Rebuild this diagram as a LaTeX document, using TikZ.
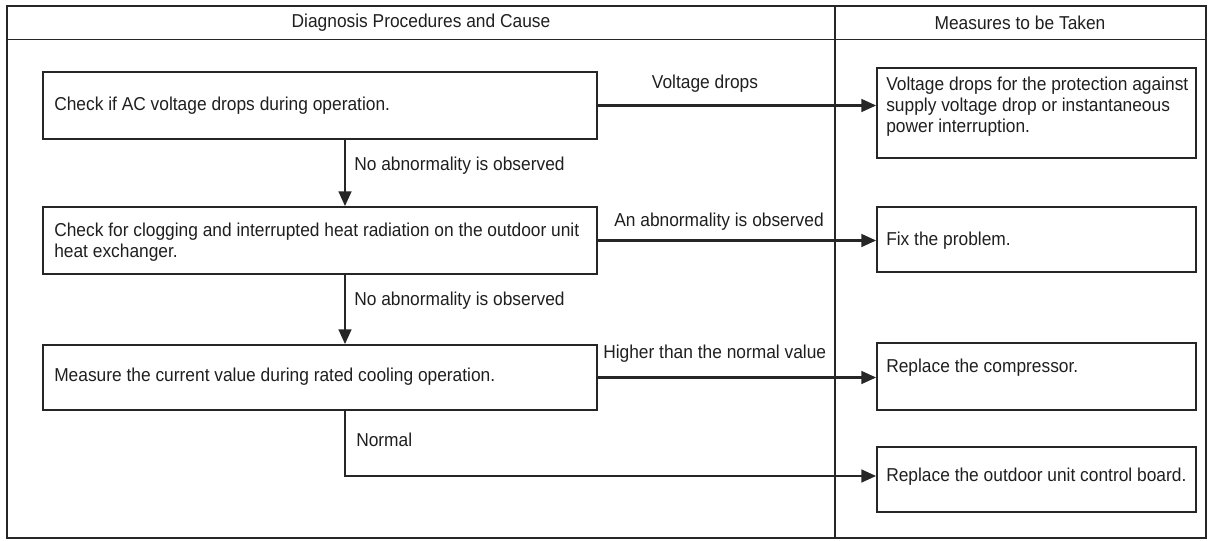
\documentclass[tikz,border=0pt]{standalone}
\usepackage{fontspec}
\setmainfont[FakeStretch=0.93]{Liberation Sans}
\usetikzlibrary{arrows.meta}
\begin{document}
\begin{tikzpicture}[x=0.75pt,y=-0.75pt,
  every node/.style={font=\fontsize{14}{15.75}\selectfont, inner sep=0pt, text=black!88},
  frame/.style={draw=black!85, line width=1.1pt},
  boxshape/.style 2 args={draw=black!85, line width=1.3pt, minimum width=#1*0.75pt, minimum height=#2*0.75pt},
  lbl/.style={anchor=west, align=left},
  conn/.style={draw=black!85, line width=1.6pt, -{Triangle[length=11pt,width=9.5pt]}},
  ]
\useasboundingbox (0,0) rectangle (1213,541);
% table frame
\draw[frame] (7,6) rectangle (1206,538);
\draw[frame] (7,39.5) -- (1206,39.5);
\draw[frame] (835,6) -- (835,538);
\node (h1) at (421,23) {Diagnosis Procedures and Cause};
\node (h2) at (1020,23) {Measures to be Taken};
% left boxes
\node[boxshape={554}{67}] (b1) at (320,105.5) {};
\node[lbl] (t1) at (54,105.5) {Check if AC voltage drops during operation.};
\node[boxshape={554}{67}] (b2) at (320,240.5) {};
\node[lbl] (t2) at (54,242) {Check for clogging and interrupted heat radiation on the outdoor unit\\heat exchanger.};
\node[boxshape={554}{65}] (b3) at (320,377.5) {};
\node[lbl] (t3) at (54,377) {Measure the current value during rated cooling operation.};
% right boxes
\node[boxshape={319}{90}] (r1) at (1036.5,113) {};
\node[lbl] (t4) at (886,107) {Voltage drops for the protection against\\supply voltage drop or instantaneous\\power interruption.};
\node[boxshape={319}{65}] (r2) at (1036.5,239.5) {};
\node[lbl] (t5) at (886,241) {Fix the problem.};
\node[boxshape={319}{67}] (r3) at (1036.5,376.5) {};
\node[lbl] (t6) at (886,368) {Replace the compressor.};
\node[boxshape={319}{65}] (r4) at (1036.5,479.5) {};
\node[lbl] (t7) at (886,477) {Replace the outdoor unit control board.};
% connectors
\coordinate (ax) at (345,0);
\coordinate (nc) at (345,476);
\draw[conn] (b1.east) -- (b1.east -| r1.west);
\draw[conn] (b2.east) -- (b2.east -| r2.west);
\draw[conn] (b3.east) -- (b3.east -| r3.west);
\draw[conn] (b1.south -| ax) -- (b2.north -| ax);
\draw[conn] (b2.south -| ax) -- (b3.north -| ax);
\draw[conn] (b3.south -| ax) -- (nc) -- (nc -| r4.west);
% labels
\node (l1) at (705,84) {Voltage drops};
\node (l2) at (719,222) {An abnormality is observed};
\node[lbl] (l3) at (603,354) {Higher than the normal value};
\node[lbl] (l4) at (354,166) {No abnormality is observed};
\node[lbl] (l5) at (354,301) {No abnormality is observed};
\node[lbl] (l6) at (356,440) {Normal};
\end{tikzpicture}
\end{document}
